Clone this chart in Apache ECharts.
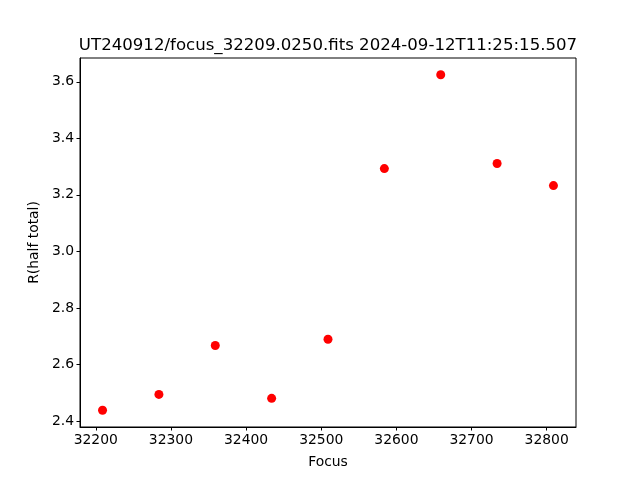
<!DOCTYPE html>
<html><head><meta charset="utf-8">
<script src="https://cdn.jsdelivr.net/npm/echarts@6/dist/echarts.min.js"></script>
<style>html,body{margin:0;padding:0;background:#fff}#c{width:640px;height:480px}</style>
</head><body><div id="c"></div>
<script>
const focus = [32209, 32284, 32359, 32434, 32509, 32584, 32659, 32734, 32809];
const rHalf = [2.438, 2.494, 2.667, 2.480, 2.689, 3.293, 3.625, 3.311, 3.233];
const xTicks = [32200, 32300, 32400, 32500, 32600, 32700, 32800];
const yTicks = [2.4, 2.6, 2.8, 3.0, 3.2, 3.4, 3.6];
const titleText = 'UT240912/focus_32209.0250.fits 2024-09-12T11:25:15.507';

const font = 'DejaVu Sans';
const chart = echarts.init(document.getElementById('c'), null, {renderer: 'canvas'});
chart.setOption({
  animation: false,
  backgroundColor: '#fff',
  title: {
    text: titleText, left: 323, top: 32, textAlign: 'center',
    textStyle: {fontFamily: font, fontSize: 16.6, fontWeight: 'normal', color: '#000'}
  },
  grid: {left: 80, right: 64, top: 58, bottom: 53, show: true, borderColor: '#000', borderWidth: 1, backgroundColor: 'transparent'},
  xAxis: {
    type: 'value', min: 32179, max: 32839,
    name: 'Focus', nameLocation: 'middle', nameGap: 28,
    nameTextStyle: {fontFamily: font, fontSize: 13.9, color: '#000'},
    splitLine: {show: false},
    axisLine: {show: true, lineStyle: {color: '#000', width: 1}},
    axisTick: {show: true, length: 3.5, lineStyle: {color: '#000'}, customValues: xTicks},
    axisLabel: {fontFamily: font, fontSize: 13.9, color: '#000', margin: 6, customValues: xTicks, formatter: v => String(v)}
  },
  yAxis: {
    type: 'value', min: 2.3786, max: 3.6844,
    name: 'R(half total)', nameLocation: 'middle', nameGap: 38, nameRotate: 90,
    nameTextStyle: {fontFamily: font, fontSize: 13.9, color: '#000'},
    splitLine: {show: false},
    axisLine: {show: true, lineStyle: {color: '#000', width: 1}},
    axisTick: {show: true, length: 3.5, lineStyle: {color: '#000'}, customValues: yTicks},
    axisLabel: {fontFamily: font, fontSize: 13.9, color: '#000', margin: 6, customValues: yTicks, formatter: v => v.toFixed(1)}
  },
  series: [{
    type: 'scatter',
    data: focus.map((f, i) => [f, rHalf[i]]),
    symbol: 'circle', symbolSize: 9,
    itemStyle: {color: '#ff0000', opacity: 1}
  }]
});
</script></body></html>
